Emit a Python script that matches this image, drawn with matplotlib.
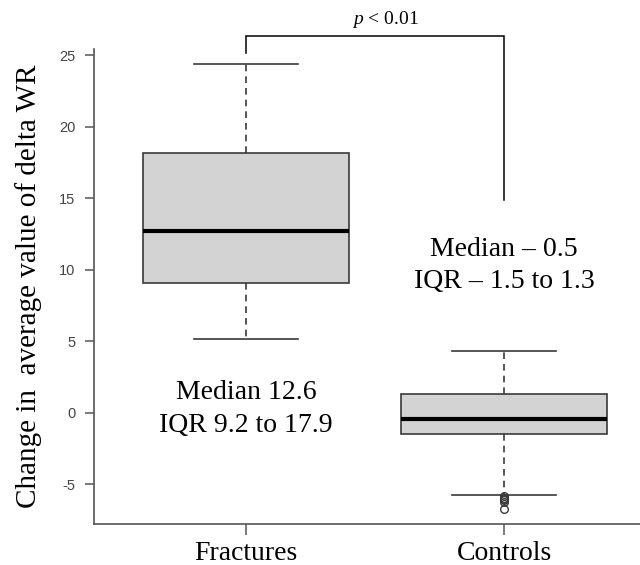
import matplotlib
matplotlib.use("Agg")
import matplotlib.pyplot as plt

plt.rcParams["mathtext.fontset"] = "custom"
plt.rcParams["mathtext.rm"] = "Liberation Serif"
plt.rcParams["mathtext.it"] = "Liberation Serif:italic"

# ---- data ----
groups = ["Fractures", "Controls"]
q1 = [9.1, -1.48]
medians = [12.7, -0.42]
q3 = [18.15, 1.27]
whisker_low = [5.15, -5.75]
whisker_high = [24.4, 4.3]
fliers_fractures = []
fliers_controls = [-5.85, -5.95, -6.05, -6.15, -6.27, -6.75]
yticks = [-5, 0, 5, 10, 15, 20, 25]
ann_fractures = ["Median 12.6", "IQR 9.2 to 17.9"]
ann_controls = ["Median \u2013 0.5", "IQR \u2013 1.5 to 1.3"]
p_text = "$\\it{p}$ < 0.01"

serif = ["Liberation Serif", "DejaVu Serif"]

fig = plt.figure(figsize=(6.4, 5.65), dpi=100)
W, H = 640, 565
left_px, right_px, top_px, bot_px = 94, 640, 49, 524
ax = fig.add_axes([left_px / W, 1 - bot_px / H, (right_px - left_px) / W, (bot_px - top_px) / H])

stats = []
fl = [fliers_fractures, fliers_controls]
for i in range(2):
    stats.append(dict(label=groups[i], med=medians[i], q1=q1[i], q3=q3[i],
                      whislo=whisker_low[i], whishi=whisker_high[i], fliers=fl[i]))

edge = "#3a3a3a"
ax.bxp(stats, positions=[1, 2], widths=0.8, patch_artist=True, manage_ticks=False,
       boxprops=dict(facecolor="#d3d3d3", edgecolor=edge, linewidth=1.2),
       medianprops=dict(color="black", linewidth=3, solid_capstyle="butt"),
       whiskerprops=dict(color=edge, linewidth=1.2, linestyle=(0, (4, 3))),
       capprops=dict(color=edge, linewidth=1.2),
       capwidths=0.4,
       flierprops=dict(marker="o", markerfacecolor="none", markeredgecolor=edge,
                       markersize=5.5, markeredgewidth=1.0))

ax.set_xlim(0.411, 2.527)
ax.set_ylim(-7.8, 25.45)

for s in ["top", "right"]:
    ax.spines[s].set_visible(False)
for s in ["left", "bottom"]:
    ax.spines[s].set_color("#555555")
    ax.spines[s].set_linewidth(1.2)

ax.set_yticks(yticks)
ax.set_yticklabels([str(v) for v in yticks], fontfamily="Liberation Sans", fontsize=10.5, color="#444444")
ax.tick_params(axis="y", length=6.5, width=1.1, color="#555555", pad=7)
ax.set_xticks([1, 2])
ax.set_xticklabels(groups, fontfamily=serif, fontsize=20)
ax.tick_params(axis="x", length=8, width=1.1, color="#555555", pad=4)

ax.set_ylabel("Change in  average value of delta WR", fontfamily=serif, fontsize=21, labelpad=12)

# annotations
ax.text(1.0, 0.25, ann_fractures[0] + "\n" + ann_fractures[1], ha="center", va="center",
        fontfamily=serif, fontsize=20, linespacing=1.38)
ax.text(2.0, 10.3, ann_controls[0] + "\n" + ann_controls[1], ha="center", va="center",
        fontfamily=serif, fontsize=20, linespacing=1.38)

# significance bracket
ax.plot([1, 1, 2, 2], [25.2, 26.35, 26.35, 14.85], color="black", linewidth=1.1,
        clip_on=False, solid_joinstyle="miter")
ax.text(1.54, 26.75, p_text, ha="center", va="bottom", fontfamily=serif, fontsize=14)

fig.savefig("out.png", dpi=100)
